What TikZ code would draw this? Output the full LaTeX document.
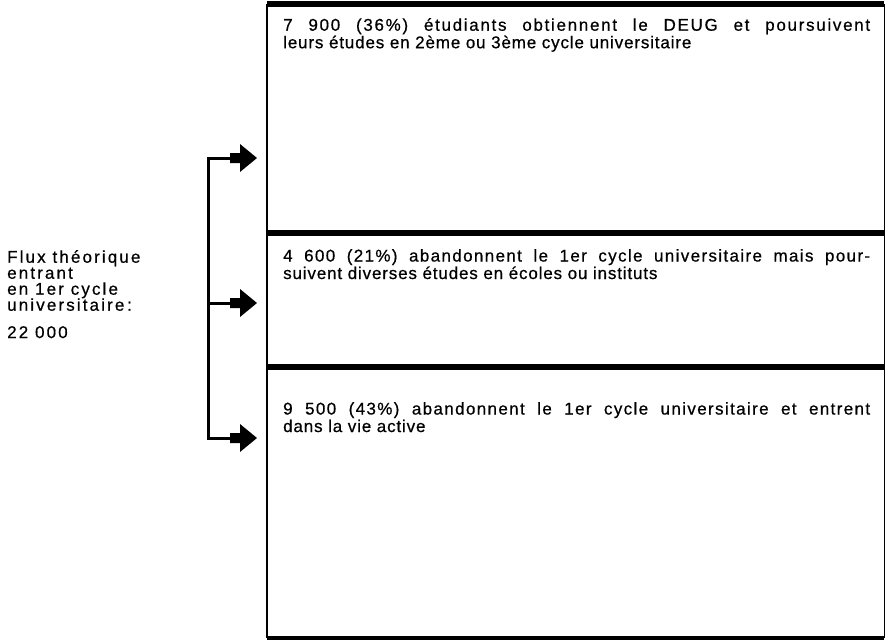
\documentclass[tikz,border=0pt]{standalone}
\usepackage{fontspec}
\setmainfont{Liberation Sans}[LetterSpace=5,FakeBold=0.6]
\newfontfamily\wideA{Liberation Sans}[LetterSpace=10,FakeBold=0.6]
\newfontfamily\wideB{Liberation Sans}[LetterSpace=8,FakeBold=0.6]
\newfontfamily\spacedfont{Liberation Sans}[LetterSpace=12.5,FakeBold=0.6]
\usetikzlibrary{calc}
\begin{document}
\begin{tikzpicture}[x=1pt,y=-1pt,
  heavy/.style={line width=5.5pt},
  bottomline/.style={line width=4pt},
  leftline/.style={line width=1.8pt},
  rightline/.style={line width=1.4pt},
  bracket/.style={line width=3pt},
  arrowfill/.style={fill=black},
  boxtext/.style={anchor=north west, inner sep=0pt, text width=587pt, align=justify,
    font=\fontsize{17}{17.5}\selectfont},
  lefttext/.style={anchor=north west, inner sep=0pt, align=left,
    font=\spacedfont\fontsize{17}{16}\selectfont},
  region/.style={draw=none, inner sep=0pt, minimum width=617pt, anchor=north west}]
\useasboundingbox (0,0) rectangle (887,641);
% regions
\node[region, minimum height=229pt] (box1) at (267,4) {};
\node[region, minimum height=134pt] (box2) at (267,233) {};
\node[region, minimum height=271pt] (box3) at (267,367) {};
% borders
\draw[heavy] (box1.north west) -- (box1.north east);
\draw[heavy] (box2.north west) -- (box2.north east);
\draw[heavy] (box3.north west) -- (box3.north east);
\draw[bottomline] (box3.south west) -- (box3.south east);
\draw[leftline] (box1.north west) -- (box3.south west);
\draw[rightline] (box1.north east) -- (box3.south east);
% bracket
\coordinate (c1) at (208,158);
\coordinate (c2) at (208,303);
\coordinate (c3) at (208,438);
\coordinate (t1) at ($(box1.west |- c1)+(-10,0)$);
\coordinate (t2) at ($(box2.west |- c2)+(-10,0)$);
\coordinate (t3) at ($(box3.west |- c3)+(-10,0)$);
\draw[bracket] ($(t1)+(-26,0)$) -- (c1) -- (c3) -- ($(t3)+(-26,0)$);
\draw[bracket] (c2) -- ($(t2)+(-26,0)$);
\foreach \t in {t1,t2,t3}
  \fill[arrowfill] (\t) -- ++(-17,-14) -- ++(0,9) -- ++(-10,0) -- ++(0,10) -- ++(10,0) -- ++(0,9) -- cycle;
% texts
\node[boxtext] (tx1) at (283,18) {{\wideA 7 900 (36\%) étudiants obtiennent le DEUG et poursuivent}\linebreak leurs études en 2ème ou 3ème cycle universitaire};
\node[boxtext] (tx2) at (283,249) {{\wideB 4 600 (21\%) abandonnent le 1er cycle universitaire mais pour-}\linebreak suivent diverses études en écoles ou instituts};
\node[boxtext] (tx3) at (283,402) {{\wideB 9 500 (43\%) abandonnent le 1er cycle universitaire et entrent}\linebreak dans la vie active};
\node[lefttext] (flux) at (7,250) {Flux théorique\\entrant\\en 1er cycle\\universitaire\,:};
\node[lefttext] (num) at (7,326) {22 000};
\end{tikzpicture}
\end{document}
